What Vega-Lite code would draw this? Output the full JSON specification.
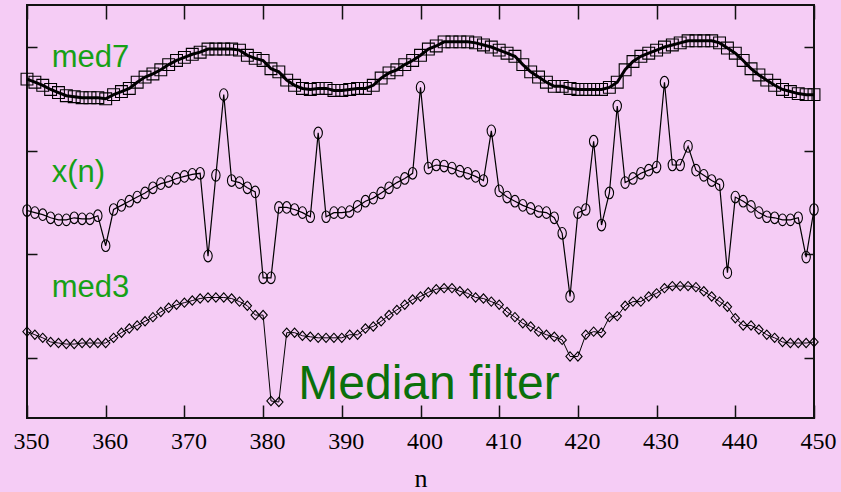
{
  "$schema": "https://vega.github.io/schema/vega-lite/v6.json",
  "width": 787,
  "height": 413,
  "autosize": {"type": "none"},
  "padding": {"left": 27, "top": 5, "right": 27, "bottom": 74},
  "background": "#f5ccf5",
  "config": {
    "view": {"stroke": "#111111", "strokeWidth": 2, "fill": "#f5ccf5"},
    "axis": {"grid": false, "domain": false, "tickColor": "#111111", "tickWidth": 1.5}
  },
  "datasets": {
    "med7": [
      {"n":350,"v":3.69},{"n":351,"v":3.66},{"n":352,"v":3.63},{"n":353,"v":3.59},{"n":354,"v":3.56},
      {"n":355,"v":3.53},{"n":356,"v":3.52},{"n":357,"v":3.51},{"n":358,"v":3.51},{"n":359,"v":3.51},
      {"n":360,"v":3.50},{"n":361,"v":3.54},{"n":362,"v":3.57},{"n":363,"v":3.60},{"n":364,"v":3.66},
      {"n":365,"v":3.71},{"n":366,"v":3.74},{"n":367,"v":3.78},{"n":368,"v":3.83},{"n":369,"v":3.87},
      {"n":370,"v":3.90},{"n":371,"v":3.93},{"n":372,"v":3.95},{"n":373,"v":3.98},{"n":374,"v":3.98},
      {"n":375,"v":3.98},{"n":376,"v":3.98},{"n":377,"v":3.97},{"n":378,"v":3.92},{"n":379,"v":3.89},
      {"n":380,"v":3.87},{"n":381,"v":3.79},{"n":382,"v":3.76},{"n":383,"v":3.68},{"n":384,"v":3.63},
      {"n":385,"v":3.60},{"n":386,"v":3.59},{"n":387,"v":3.60},{"n":388,"v":3.60},{"n":389,"v":3.58},
      {"n":390,"v":3.58},{"n":391,"v":3.59},{"n":392,"v":3.60},{"n":393,"v":3.60},{"n":394,"v":3.63},
      {"n":395,"v":3.70},{"n":396,"v":3.75},{"n":397,"v":3.78},{"n":398,"v":3.83},{"n":399,"v":3.87},
      {"n":400,"v":3.92},{"n":401,"v":3.98},{"n":402,"v":4.01},{"n":403,"v":4.05},{"n":404,"v":4.05},
      {"n":405,"v":4.05},{"n":406,"v":4.05},{"n":407,"v":4.04},{"n":408,"v":4.02},{"n":409,"v":4.00},
      {"n":410,"v":3.97},{"n":411,"v":3.94},{"n":412,"v":3.91},{"n":413,"v":3.83},{"n":414,"v":3.76},
      {"n":415,"v":3.71},{"n":416,"v":3.66},{"n":417,"v":3.62},{"n":418,"v":3.62},{"n":419,"v":3.60},
      {"n":420,"v":3.59},{"n":421,"v":3.59},{"n":422,"v":3.59},{"n":423,"v":3.59},{"n":424,"v":3.61},
      {"n":425,"v":3.66},{"n":426,"v":3.78},{"n":427,"v":3.86},{"n":428,"v":3.91},{"n":429,"v":3.94},
      {"n":430,"v":3.97},{"n":431,"v":4.00},{"n":432,"v":4.02},{"n":433,"v":4.04},{"n":434,"v":4.06},
      {"n":435,"v":4.06},{"n":436,"v":4.06},{"n":437,"v":4.06},{"n":438,"v":4.04},{"n":439,"v":3.99},
      {"n":440,"v":3.94},{"n":441,"v":3.87},{"n":442,"v":3.79},{"n":443,"v":3.73},{"n":444,"v":3.68},
      {"n":445,"v":3.63},{"n":446,"v":3.59},{"n":447,"v":3.57},{"n":448,"v":3.55},{"n":449,"v":3.54},
      {"n":450,"v":3.54}
    ],
    "xn": [
      {"n":350,"v":2.42},{"n":351,"v":2.40},{"n":352,"v":2.38},{"n":353,"v":2.35},{"n":354,"v":2.33},
      {"n":355,"v":2.33},{"n":356,"v":2.35},{"n":357,"v":2.34},{"n":358,"v":2.34},{"n":359,"v":2.37},
      {"n":360,"v":2.08},{"n":361,"v":2.43},{"n":362,"v":2.47},{"n":363,"v":2.51},{"n":364,"v":2.55},
      {"n":365,"v":2.59},{"n":366,"v":2.64},{"n":367,"v":2.68},{"n":368,"v":2.70},{"n":369,"v":2.73},
      {"n":370,"v":2.75},{"n":371,"v":2.77},{"n":372,"v":2.78},{"n":373,"v":1.98},{"n":374,"v":2.76},
      {"n":375,"v":3.54},{"n":376,"v":2.71},{"n":377,"v":2.69},{"n":378,"v":2.64},{"n":379,"v":2.60},
      {"n":380,"v":1.77},{"n":381,"v":1.77},{"n":382,"v":2.45},{"n":383,"v":2.45},{"n":384,"v":2.43},
      {"n":385,"v":2.40},{"n":386,"v":2.36},{"n":387,"v":3.17},{"n":388,"v":2.36},{"n":389,"v":2.40},
      {"n":390,"v":2.40},{"n":391,"v":2.41},{"n":392,"v":2.46},{"n":393,"v":2.51},{"n":394,"v":2.54},
      {"n":395,"v":2.59},{"n":396,"v":2.64},{"n":397,"v":2.69},{"n":398,"v":2.73},{"n":399,"v":2.78},
      {"n":400,"v":3.61},{"n":401,"v":2.83},{"n":402,"v":2.86},{"n":403,"v":2.85},{"n":404,"v":2.83},
      {"n":405,"v":2.80},{"n":406,"v":2.78},{"n":407,"v":2.75},{"n":408,"v":2.71},{"n":409,"v":3.19},
      {"n":410,"v":2.61},{"n":411,"v":2.55},{"n":412,"v":2.51},{"n":413,"v":2.47},{"n":414,"v":2.44},
      {"n":415,"v":2.41},{"n":416,"v":2.40},{"n":417,"v":2.35},{"n":418,"v":2.20},{"n":419,"v":1.59},
      {"n":420,"v":2.40},{"n":421,"v":2.43},{"n":422,"v":3.09},{"n":423,"v":2.28},{"n":424,"v":2.59},
      {"n":425,"v":3.43},{"n":426,"v":2.69},{"n":427,"v":2.73},{"n":428,"v":2.78},{"n":429,"v":2.81},
      {"n":430,"v":2.84},{"n":431,"v":3.66},{"n":432,"v":2.86},{"n":433,"v":2.86},{"n":434,"v":3.04},
      {"n":435,"v":2.81},{"n":436,"v":2.76},{"n":437,"v":2.71},{"n":438,"v":2.67},{"n":439,"v":1.82},
      {"n":440,"v":2.55},{"n":441,"v":2.51},{"n":442,"v":2.46},{"n":443,"v":2.40},{"n":444,"v":2.36},
      {"n":445,"v":2.35},{"n":446,"v":2.33},{"n":447,"v":2.33},{"n":448,"v":2.35},{"n":449,"v":1.97},
      {"n":450,"v":2.43}
    ],
    "med3": [
      {"n":350,"v":1.25},{"n":351,"v":1.22},{"n":352,"v":1.19},{"n":353,"v":1.15},{"n":354,"v":1.14},
      {"n":355,"v":1.13},{"n":356,"v":1.13},{"n":357,"v":1.14},{"n":358,"v":1.14},{"n":359,"v":1.14},
      {"n":360,"v":1.14},{"n":361,"v":1.19},{"n":362,"v":1.24},{"n":363,"v":1.28},{"n":364,"v":1.31},
      {"n":365,"v":1.35},{"n":366,"v":1.39},{"n":367,"v":1.44},{"n":368,"v":1.48},{"n":369,"v":1.51},
      {"n":370,"v":1.53},{"n":371,"v":1.55},{"n":372,"v":1.57},{"n":373,"v":1.58},{"n":374,"v":1.58},
      {"n":375,"v":1.58},{"n":376,"v":1.57},{"n":377,"v":1.54},{"n":378,"v":1.50},{"n":379,"v":1.41},
      {"n":380,"v":1.41},{"n":381,"v":0.58},{"n":382,"v":0.57},{"n":383,"v":1.24},{"n":384,"v":1.24},
      {"n":385,"v":1.21},{"n":386,"v":1.20},{"n":387,"v":1.19},{"n":388,"v":1.19},{"n":389,"v":1.19},
      {"n":390,"v":1.19},{"n":391,"v":1.22},{"n":392,"v":1.22},{"n":393,"v":1.28},{"n":394,"v":1.30},
      {"n":395,"v":1.35},{"n":396,"v":1.41},{"n":397,"v":1.46},{"n":398,"v":1.51},{"n":399,"v":1.56},
      {"n":400,"v":1.59},{"n":401,"v":1.63},{"n":402,"v":1.66},{"n":403,"v":1.67},{"n":404,"v":1.67},
      {"n":405,"v":1.64},{"n":406,"v":1.62},{"n":407,"v":1.58},{"n":408,"v":1.57},{"n":409,"v":1.54},
      {"n":410,"v":1.51},{"n":411,"v":1.44},{"n":412,"v":1.39},{"n":413,"v":1.33},{"n":414,"v":1.30},
      {"n":415,"v":1.25},{"n":416,"v":1.22},{"n":417,"v":1.20},{"n":418,"v":1.17},{"n":419,"v":1.01},
      {"n":420,"v":1.01},{"n":421,"v":1.22},{"n":422,"v":1.25},{"n":423,"v":1.24},{"n":424,"v":1.39},
      {"n":425,"v":1.40},{"n":426,"v":1.50},{"n":427,"v":1.54},{"n":428,"v":1.54},{"n":429,"v":1.59},
      {"n":430,"v":1.62},{"n":431,"v":1.67},{"n":432,"v":1.69},{"n":433,"v":1.69},{"n":434,"v":1.69},
      {"n":435,"v":1.68},{"n":436,"v":1.64},{"n":437,"v":1.59},{"n":438,"v":1.54},{"n":439,"v":1.49},
      {"n":440,"v":1.38},{"n":441,"v":1.31},{"n":442,"v":1.31},{"n":443,"v":1.27},{"n":444,"v":1.22},
      {"n":445,"v":1.19},{"n":446,"v":1.15},{"n":447,"v":1.14},{"n":448,"v":1.14},{"n":449,"v":1.14},
      {"n":450,"v":1.15}
    ],
    "labels": [
      {"label": "med7"}
    ]
  },
  "layer": [
    {
      "data": {"name": "med7"},
      "mark": {"type": "line", "color": "#000000", "strokeWidth": 3},
      "encoding": {
        "x": {
          "field": "n", "type": "quantitative",
          "scale": {"domain": [350, 450], "nice": false, "zero": false},
          "axis": {
            "orient": "bottom", "values": [350, 360, 370, 380, 390, 400, 410, 420, 430, 440, 450],
            "tickSize": -13, "labelPadding": 24, "labelOffset": 4,
            "labelFont": "Liberation Serif", "labelFontSize": 24, "labelColor": "#000000",
            "labelFlush": false, "labelOverlap": false,
            "title": "n", "titleFont": "Liberation Serif", "titleFontSize": 26,
            "titleFontWeight": "normal", "titleColor": "#000000", "titlePadding": 12
          }
        },
        "y": {
          "field": "v", "type": "quantitative",
          "scale": {"domain": [0.4155, 4.406], "nice": false, "zero": false},
          "axis": {"orient": "left", "values": [1, 2, 3, 4], "tickSize": -10, "labels": false, "title": null}
        }
      }
    },
    {
      "data": {"name": "med7"},
      "mark": {"type": "point", "shape": "square", "filled": false, "size": 140, "stroke": "#000000", "strokeWidth": 1.1, "opacity": 1},
      "encoding": {
        "x": {
          "field": "n", "type": "quantitative",
          "axis": {"orient": "top", "values": [350, 360, 370, 380, 390, 400, 410, 420, 430, 440, 450], "tickSize": -14, "labels": false, "title": null}
        },
        "y": {
          "field": "v", "type": "quantitative",
          "axis": {"orient": "right", "values": [1, 2, 3, 4], "tickSize": -10, "labels": false, "title": null}
        }
      }
    },
    {
      "data": {"name": "xn"},
      "mark": {"type": "line", "color": "#000000", "strokeWidth": 1.2},
      "encoding": {
        "x": {"field": "n", "type": "quantitative", "axis": null},
        "y": {"field": "v", "type": "quantitative", "axis": null}
      }
    },
    {
      "data": {"name": "xn"},
      "mark": {"type": "point", "shape": "M-0.72,0A0.72,1 0 1,0 0.72,0A0.72,1 0 1,0 -0.72,0Z", "filled": false, "size": 135, "stroke": "#000000", "strokeWidth": 1.1, "opacity": 1},
      "encoding": {
        "x": {"field": "n", "type": "quantitative", "axis": null},
        "y": {"field": "v", "type": "quantitative", "axis": null}
      }
    },
    {
      "data": {"name": "med3"},
      "mark": {"type": "line", "color": "#000000", "strokeWidth": 1},
      "encoding": {
        "x": {"field": "n", "type": "quantitative", "axis": null},
        "y": {"field": "v", "type": "quantitative", "axis": null}
      }
    },
    {
      "data": {"name": "med3"},
      "mark": {"type": "point", "shape": "M-0.9,0L0,1L0.9,0L0,-1Z", "filled": false, "size": 86, "stroke": "#000000", "strokeWidth": 1.1, "opacity": 1},
      "encoding": {
        "x": {"field": "n", "type": "quantitative", "axis": null},
        "y": {"field": "v", "type": "quantitative", "axis": null}
      }
    },
    {
      "data": {"name": "labels"},
      "mark": {"type": "text", "text": "med7", "font": "Liberation Sans", "fontSize": 31, "color": "#16a016", "align": "left", "baseline": "alphabetic"},
      "encoding": {"x": {"datum": 353.14, "type": "quantitative", "axis": null}, "y": {"datum": 3.807, "type": "quantitative", "axis": null}}
    },
    {
      "data": {"name": "labels"},
      "mark": {"type": "text", "text": "x(n)", "font": "Liberation Sans", "fontSize": 31, "color": "#16a016", "align": "left", "baseline": "alphabetic"},
      "encoding": {"x": {"datum": 353.14, "type": "quantitative", "axis": null}, "y": {"datum": 2.693, "type": "quantitative", "axis": null}}
    },
    {
      "data": {"name": "labels"},
      "mark": {"type": "text", "text": "med3", "font": "Liberation Sans", "fontSize": 31, "color": "#16a016", "align": "left", "baseline": "alphabetic"},
      "encoding": {"x": {"datum": 353.14, "type": "quantitative", "axis": null}, "y": {"datum": 1.582, "type": "quantitative", "axis": null}}
    },
    {
      "data": {"name": "labels"},
      "mark": {"type": "text", "text": "Median filter", "font": "Liberation Sans", "fontSize": 48, "color": "#0b700b", "align": "left", "baseline": "alphabetic"},
      "encoding": {"x": {"datum": 384.47, "type": "quantitative", "axis": null}, "y": {"datum": 0.596, "type": "quantitative", "axis": null}}
    }
  ],
  "resolve": {"axis": {"x": "independent", "y": "independent"}}
}
